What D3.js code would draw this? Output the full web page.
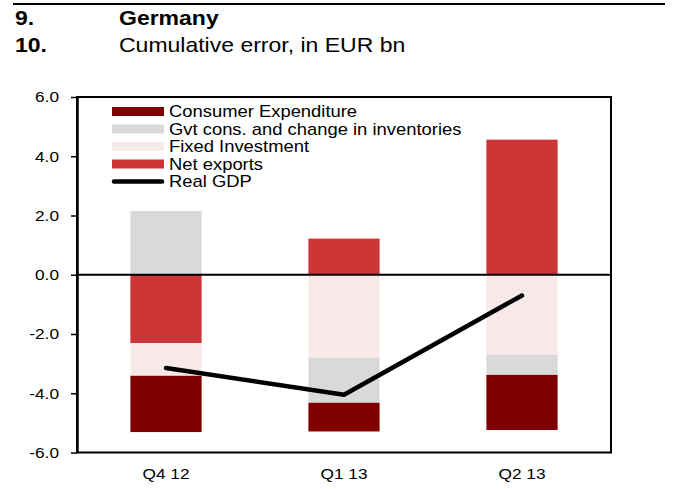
<!DOCTYPE html>
<html>
<head>
<meta charset="utf-8">
<script src="https://cdn.jsdelivr.net/npm/d3@7"></script>
<style>
  body { margin: 0; background: #fff; }
  text { font-family: "Liberation Sans", Arial, sans-serif; fill: #000; }
</style>
</head>
<body>
<div class="chart"></div>
<script>
// data (EUR bn)
let categories = ['Q4 12', 'Q1 13', 'Q2 13'];
let consumer = [-1.90, -0.97, -1.86];
let gvtInventories = [2.15, -1.52, -0.68];
let fixedInvestment = [-1.10, -2.80, -2.70];
let netExports = [-2.31, 1.22, 4.56];
let realGdp = [-3.15, -4.05, -0.70];
let yTicks = [-6, -4, -2, 0, 2, 4, 6];

let series = [
  { key: 'consumer', name: 'Consumer Expenditure', values: consumer, color: '#800000' },
  { key: 'gvt', name: 'Gvt cons. and change in inventories', values: gvtInventories, color: '#d9d9d9' },
  { key: 'fixed', name: 'Fixed Investment', values: fixedInvestment, color: '#f8e9e9' },
  { key: 'net', name: 'Net exports', values: netExports, color: '#cc3535' }
];

let W = 678, H = 489;
let margin = { top: 97, right: 67, bottom: 36.5, left: 77 };
let width = W - margin.left - margin.right;
let height = H - margin.top - margin.bottom;
let S = 1.15; // the original text is a little wider than Arial

function stretch(sel) {
  sel.each(function() {
    let t = d3.select(this);
    t.attr('x', (+t.attr('x') || 0) / S).attr('transform', `scale(${S},1)`);
  });
}

let root = d3.select('.chart').append('svg')
  .attr('width', W)
  .attr('height', H);

// header
root.append('line')
  .attr('x1', 13).attr('x2', 665).attr('y1', 4).attr('y2', 4)
  .attr('stroke', '#000').attr('stroke-width', 2);

let head = root.append('g').style('font-size', '20px');
head.append('text').attr('x', 15).attr('y', 25).style('font-weight', 'bold').text('9.');
head.append('text').attr('x', 119).attr('y', 25).style('font-weight', 'bold').text('Germany');
head.append('text').attr('x', 15).attr('y', 52).style('font-weight', 'bold').text('10.');
head.append('text').attr('x', 119).attr('y', 52).text('Cumulative error, in EUR bn');
head.selectAll('text').each(function() {
  let t = d3.select(this);
  t.attr('transform', `translate(${t.attr('x')},0) scale(${S},1)`).attr('x', 0);
});

let svg = root.append('g')
  .attr('transform', `translate(${margin.left}, ${margin.top})`);

let x = d3.scaleBand()
  .domain(categories)
  .range([0, width])
  .paddingInner(0.6)
  .paddingOuter(0.3);

let y = d3.scaleLinear()
  .domain([-6, 6])
  .range([height, 0]);

// stacked bars; order matters for which block sits next to zero
let rows = categories.map((c, i) => {
  let r = { cat: c };
  series.forEach(s => r[s.key] = s.values[i]);
  return r;
});
let stackOrder = ['net', 'fixed', 'gvt', 'consumer'];
let stacked = d3.stack()
  .keys(stackOrder)
  .offset(d3.stackOffsetDiverging)(rows);

let colorOf = {};
series.forEach(s => colorOf[s.key] = s.color);

svg.append('g')
  .selectAll('g')
  .data(stacked)
  .join('g')
    .attr('fill', d => colorOf[d.key])
  .selectAll('rect')
  .data(d => d)
  .join('rect')
    .attr('x', d => x(d.data.cat))
    .attr('y', d => y(d[1]))
    .attr('width', x.bandwidth())
    .attr('height', d => y(d[0]) - y(d[1]));

// zero line
svg.append('line')
  .attr('x1', 0).attr('x2', width)
  .attr('y1', y(0)).attr('y2', y(0))
  .attr('stroke', '#000').attr('stroke-width', 2);

// real GDP line
let line = d3.line()
  .x((d, i) => x(categories[i]) + x.bandwidth() / 2)
  .y(d => y(d));

svg.append('path')
  .datum(realGdp)
  .attr('d', line)
  .attr('fill', 'none')
  .attr('stroke', '#000')
  .attr('stroke-width', 4.5)
  .attr('stroke-linecap', 'round')
  .attr('stroke-linejoin', 'round');

// frame
svg.append('rect')
  .attr('width', width)
  .attr('height', height)
  .attr('fill', 'none')
  .attr('stroke', '#000')
  .attr('stroke-width', 2);

let yAxis = d3.axisLeft(y)
  .tickValues(yTicks)
  .tickFormat(d => d.toFixed(1))
  .tickSizeInner(6)
  .tickSizeOuter(0)
  .tickPadding(12);

let yg = svg.append('g').call(yAxis);
yg.select('.domain').attr('stroke-width', 2.5);
yg.selectAll('.tick line').attr('stroke-width', 1.5);
yg.selectAll('text').style('font-size', '15px').style('font-family', null);
stretch(yg.selectAll('text'));

let xAxis = d3.axisBottom(x)
  .tickSize(0)
  .tickPadding(16);

let xg = svg.append('g')
  .attr('transform', `translate(0, ${height})`)
  .call(xAxis);
xg.select('.domain').remove();
xg.selectAll('text').style('font-size', '15px').style('font-family', null);
stretch(xg.selectAll('text'));

// legend
let legendItems = series.map(s => ({ name: s.name, color: s.color, type: 'bar' }))
  .concat([{ name: 'Real GDP', color: '#000', type: 'line' }]);

let legend = svg.append('g')
  .attr('transform', `translate(${112 - margin.left}, ${111.5 - margin.top})`);

let item = legend.selectAll('g')
  .data(legendItems)
  .join('g')
    .attr('transform', (d, i) => `translate(0, ${i * 17.5})`);

item.filter(d => d.type === 'bar').append('rect')
  .attr('x', 0).attr('y', -4.5)
  .attr('width', 52).attr('height', 9)
  .attr('fill', d => d.color);

item.filter(d => d.type === 'line').append('line')
  .attr('x1', 2).attr('x2', 50)
  .attr('stroke', '#000')
  .attr('stroke-width', 4.5)
  .attr('stroke-linecap', 'round');

item.append('text')
  .attr('x', 57)
  .attr('dy', '0.36em')
  .style('font-size', '16px')
  .text(d => d.name);
stretch(item.selectAll('text'));
</script>
</body>
</html>
